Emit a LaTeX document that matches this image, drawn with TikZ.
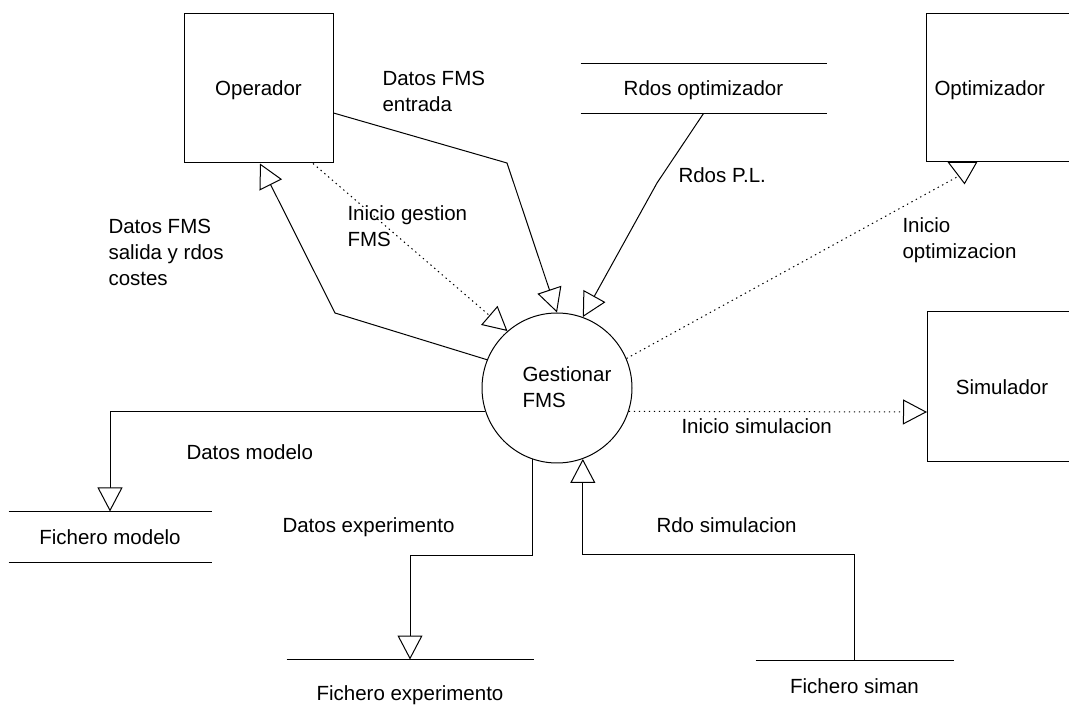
\documentclass[tikz,border=0pt]{standalone}
\usepackage{fontspec}
\setmainfont{Liberation Sans}
\usetikzlibrary{arrows.meta}
\newcommand\dfdfont{\fontsize{20.5}{26}\selectfont}
\newcommand\lblstrut{\rule{0pt}{15pt}}
\begin{document}
\begin{tikzpicture}[x=1pt,y=-1pt,
  line width=1pt,
  every node/.style={font=\dfdfont},
  entity/.style={draw, rectangle, minimum width=149pt, minimum height=149pt,
    inner sep=0pt, text height=14.6pt, text depth=0pt},
  process/.style={draw, circle, minimum size=150pt, inner sep=0pt},
  store/.style={inner sep=0pt, text height=14.6pt, text depth=0pt},
  lbl/.style={anchor=north west, inner sep=0pt, align=left},
  flow/.style={-{Triangle[length=24pt,width=25pt,fill=white]}},
  dots/.style={dash pattern=on 1.4pt off 3.6pt},
  ctrl/.style={flow, dots},
]
\fill[white] (0,0) rectangle (1069,708);
\useasboundingbox (0,0) rectangle (1069,708);

% external entities
\node[entity] (op) at (258.5,88.5) {Operador};
\node[entity, minimum width=150pt, minimum height=148pt] (opt) at (1001,88) {};
\node[lbl] (optname) at (934,80) {\lblstrut Optimizador};
\node[entity, minimum height=150pt] (sim) at (1002,387) {Simulador};

% process
\node[process] (g) at (557,388) {};
\node[lbl] (gname) at (522,366) {\lblstrut Gestionar\\FMS};

% data stores
\node[store, minimum width=245pt, minimum height=49pt] (rdo) at (703.5,88.5) {Rdos optimizador};
\draw (rdo.north west) -- (rdo.north east) (rdo.south west) -- (rdo.south east);
\node[store, minimum width=202pt, minimum height=50pt] (fmod) at (110,537) {Fichero modelo};
\draw (fmod.north west) -- (fmod.north east) (fmod.south west) -- (fmod.south east);
\node[store, minimum width=246pt, minimum height=66pt] (fexp) at (410,693) {Fichero experimento};
\draw (fexp.north west) -- (fexp.north east);
\node[store, minimum width=197pt, minimum height=50pt] (fsim) at (854.5,686) {Fichero siman};
\draw (fsim.north west) -- (fsim.north east);

% data flows
\draw[flow] ([yshift=-24.5pt]op.east) -- (507,163) -- (g.90);
\draw[flow] (g.158.6) -- (335,313) -- ([xshift=1.5pt]op.south);
\draw[flow] (rdo.south) -- (657,183) -- (g.70.6);
\draw[flow] (g.198.7) -| (fmod.north);
\draw[flow] (g.251.3) -- ++(0,96.5) -| (fexp.north);
\draw[flow] (fsim.north) -- ++(0,-106) -| (g.290.4);

% control flows
\draw[ctrl] ([xshift=54.5pt]op.south) -- (g.131.2);
\draw[ctrl] (g.-18.7) -- ([yshift=-25pt]sim.west);
\draw[fill=white] ([xshift=23pt]opt.south west) -- ([xshift=39pt,yshift=-21pt]opt.south west)
  -- ([xshift=51pt]opt.south west) -- cycle;
\coordinate (optend) at (957,177);
\draw[dots] (g.23.2) -- (optend);

% flow labels
\node[lbl] (l1) at (382,70) {\lblstrut Datos FMS\\entrada};
\node[lbl] (l2) at (108,218) {\lblstrut Datos FMS\\salida y rdos\\costes};
\node[lbl] (l3) at (347,205) {\lblstrut Inicio gestion\\FMS};
\node[lbl] (l4) at (678,167) {\lblstrut Rdos P.L.};
\node[lbl] (l5) at (902,217) {\lblstrut Inicio\\optimizacion};
\node[lbl] (l6) at (681,418) {\lblstrut Inicio simulacion};
\node[lbl] (l7) at (186,444) {\lblstrut Datos modelo};
\node[lbl] (l8) at (282,517) {\lblstrut Datos experimento};
\node[lbl] (l9) at (656,517) {\lblstrut Rdo simulacion};
\end{tikzpicture}
\end{document}
